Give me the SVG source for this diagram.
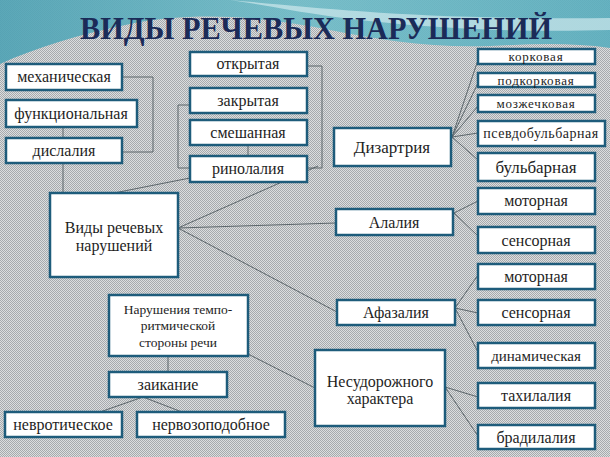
<svg xmlns="http://www.w3.org/2000/svg" width="610" height="457" viewBox="0 0 610 457">
<defs>
<pattern id="dots" width="2" height="2" patternUnits="userSpaceOnUse">
<rect width="2" height="2" fill="#dcdedf"/>
<rect width="1" height="1" fill="#a6aaad"/>
<rect x="1" y="1" width="1" height="1" fill="#a6aaad"/>
</pattern>
<linearGradient id="teal" x1="0" y1="0" x2="1" y2="0">
<stop offset="0" stop-color="#4ea2b4"/>
<stop offset="0.5" stop-color="#6fbcc8"/>
<stop offset="1" stop-color="#5aaebe"/>
</linearGradient>
<style>
text{font-family:"Liberation Serif","DejaVu Serif","Times New Roman",serif}
.box{fill:#ffffff;stroke:#1e5c7b;stroke-width:2.5}
.t{fill:#1e1e1e;text-anchor:middle}
.c{fill:none;stroke:#5c666b;stroke-width:1}
</style>
</defs>
<rect width="610" height="457" fill="url(#dots)"/>
<path d="M0,0 H610 V48 C570,42 530,44 490,46 C430,48 380,40 330,30 C270,18 200,10 130,24 C80,34 35,48 0,64 Z" fill="url(#teal)" opacity="0.9"/>
<path d="M230,0 C320,8 420,20 610,18 V30 C470,34 360,22 290,10 C270,6 250,3 230,0 Z" fill="#cfe8ec" opacity="0.7"/>
<text x="316" y="39" font-weight="bold" font-size="31" fill="#1b2b58" text-anchor="middle" textLength="472" lengthAdjust="spacingAndGlyphs">ВИДЫ РЕЧЕВЫХ НАРУШЕНИЙ</text>

<g id="connectors">
<polyline class="c" points="122,77 153,77 153,152 122,152"/>
<line class="c" x1="63" y1="127" x2="63" y2="138"/>
<line class="c" x1="63" y1="163" x2="63" y2="193"/>
<polyline class="c" points="307,66 322,66 322,168 307,168"/>
<polyline class="c" points="190,105 178,105 178,168 190,168"/>
<line class="c" x1="248" y1="145" x2="248" y2="156"/>
<line class="c" x1="190" y1="178" x2="114" y2="193"/>
<line class="c" x1="178" y1="228" x2="318" y2="166"/>
<line class="c" x1="178" y1="228" x2="336" y2="223"/>
<line class="c" x1="178" y1="228" x2="337" y2="312"/>
<line class="c" x1="248" y1="354" x2="315" y2="388"/>
<line class="c" x1="168" y1="356" x2="168" y2="372"/>
<line class="c" x1="143" y1="397" x2="100" y2="412"/>
<line class="c" x1="143" y1="397" x2="182" y2="412"/>
<line class="c" x1="452" y1="137" x2="478" y2="60"/>
<line class="c" x1="452" y1="137" x2="478" y2="83"/>
<line class="c" x1="452" y1="137" x2="478" y2="106"/>
<line class="c" x1="452" y1="137" x2="478" y2="133"/>
<line class="c" x1="452" y1="137" x2="478" y2="160"/>
<line class="c" x1="454" y1="213" x2="478" y2="201"/>
<line class="c" x1="454" y1="213" x2="478" y2="236"/>
<line class="c" x1="455" y1="308" x2="478" y2="275"/>
<line class="c" x1="455" y1="308" x2="478" y2="313"/>
<line class="c" x1="455" y1="308" x2="478" y2="352"/>
<line class="c" x1="445" y1="387" x2="478" y2="397"/>
<line class="c" x1="445" y1="387" x2="478" y2="436"/>
</g>

<g id="n-mech"><rect class="box" x="6" y="64" width="116" height="26"/><text class="t" x="64" y="82" font-size="16">механическая</text></g>
<g id="n-func"><rect class="box" x="6" y="100" width="131" height="27"/><text class="t" x="71" y="119" font-size="16">функциональная</text></g>
<g id="n-disl"><rect class="box" x="6" y="138" width="116" height="25"/><text class="t" x="64" y="156" font-size="16">дислалия</text></g>

<g id="n-otkr"><rect class="box" x="190" y="52" width="117" height="24"/><text class="t" x="248" y="69" font-size="16">открытая</text></g>
<g id="n-zakr"><rect class="box" x="190" y="88" width="117" height="25"/><text class="t" x="248" y="106" font-size="16">закрытая</text></g>
<g id="n-smesh"><rect class="box" x="190" y="120" width="117" height="25"/><text class="t" x="248" y="138" font-size="16">смешанная</text></g>
<g id="n-rino"><rect class="box" x="190" y="156" width="117" height="26"/><text class="t" x="248" y="174" font-size="16">ринолалия</text></g>

<g id="n-vidy"><rect class="box" x="50" y="193" width="128" height="84"/><text class="t" x="114" y="233" font-size="16">Виды речевых</text><text class="t" x="114" y="251" font-size="16">нарушений</text></g>

<g id="n-temp"><rect class="box" x="109" y="295" width="139" height="61"/><text class="t" x="178" y="314" font-size="13.5">Нарушения темпо-</text><text class="t" x="178" y="330" font-size="13.5">ритмической</text><text class="t" x="178" y="347" font-size="13.5">стороны речи</text></g>
<g id="n-zaik"><rect class="box" x="109" y="372" width="118" height="25"/><text class="t" x="168" y="390" font-size="16">заикание</text></g>
<g id="n-nevr"><rect class="box" x="5" y="412" width="117" height="25"/><text class="t" x="63" y="430" font-size="16">невротическое</text></g>
<g id="n-nevrp"><rect class="box" x="137" y="412" width="148" height="25"/><text class="t" x="211" y="430" font-size="16">нервозоподобное</text></g>

<g id="n-dizart"><rect class="box" x="334" y="128" width="117" height="38"/><text class="t" x="392" y="153" font-size="17">Дизартрия</text></g>
<g id="n-alal"><rect class="box" x="336" y="209" width="117" height="26"/><text class="t" x="394" y="228" font-size="16">Алалия</text></g>
<g id="n-afaz"><rect class="box" x="337" y="300" width="118" height="25"/><text class="t" x="396" y="318" font-size="16">Афазалия</text></g>
<g id="n-nesud"><rect class="box" x="315" y="350" width="130" height="76"/><text class="t" x="380" y="387" font-size="16">Несудорожного</text><text class="t" x="380" y="404" font-size="16">характера</text></g>

<g id="n-kork"><rect class="box" x="478" y="49" width="117" height="15"/><text class="t" x="536" y="61" font-size="13" letter-spacing="0.8">корковая</text></g>
<g id="n-podk"><rect class="box" x="478" y="73" width="117" height="14"/><text class="t" x="536" y="85" font-size="13" letter-spacing="0.8">подкорковая</text></g>
<g id="n-mozzh"><rect class="box" x="478" y="95" width="117" height="17"/><text class="t" x="536" y="108" font-size="13" letter-spacing="0.8">мозжечковая</text></g>
<g id="n-psevdo"><rect class="box" x="478" y="121" width="127" height="25"/><text class="t" x="541" y="138" font-size="14" letter-spacing="0.5">псевдобульбарная</text></g>
<g id="n-bulb"><rect class="box" x="478" y="153" width="117" height="28"/><text class="t" x="536" y="173" font-size="17">бульбарная</text></g>
<g id="n-mot1"><rect class="box" x="478" y="188" width="117" height="26"/><text class="t" x="536" y="206" font-size="16">моторная</text></g>
<g id="n-sens1"><rect class="box" x="478" y="227" width="117" height="26"/><text class="t" x="536" y="246" font-size="16">сенсорная</text></g>
<g id="n-mot2"><rect class="box" x="478" y="264" width="117" height="25"/><text class="t" x="536" y="282" font-size="16">моторная</text></g>
<g id="n-sens2"><rect class="box" x="478" y="300" width="117" height="25"/><text class="t" x="536" y="318" font-size="16">сенсорная</text></g>
<g id="n-dinam"><rect class="box" x="478" y="343" width="117" height="25"/><text class="t" x="536" y="361" font-size="15">динамическая</text></g>
<g id="n-tahi"><rect class="box" x="478" y="383" width="117" height="25"/><text class="t" x="536" y="401" font-size="16">тахилалия</text></g>
<g id="n-brad"><rect class="box" x="478" y="425" width="117" height="24"/><text class="t" x="536" y="443" font-size="16">брадилалия</text></g>
</svg>
